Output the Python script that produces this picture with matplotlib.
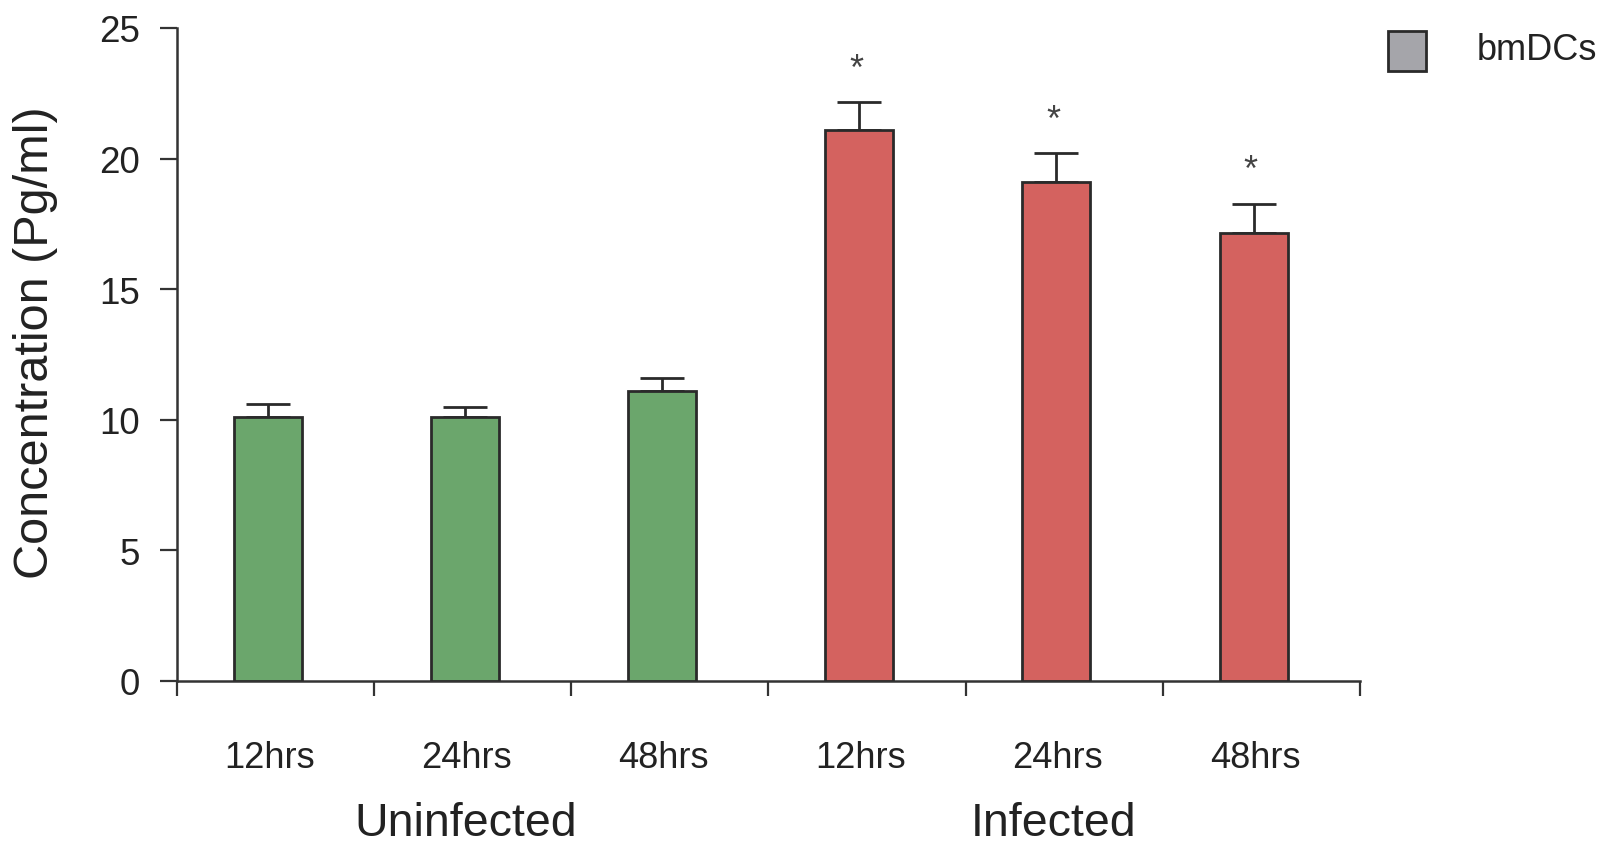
import matplotlib
matplotlib.use("Agg")
import matplotlib.pyplot as plt
from matplotlib.patches import Rectangle

# Data
categories = ["12hrs", "24hrs", "48hrs", "12hrs", "24hrs", "48hrs"]
groups = ["Uninfected", "Infected"]
values = [10.1, 10.1, 11.1, 21.1, 19.1, 17.15]
errors = [0.5, 0.4, 0.5, 1.05, 1.1, 1.1]
significant = [False, False, False, True, True, True]
bar_colors = ["#6ba66c", "#6ba66c", "#6ba66c", "#d4625f", "#d4625f", "#d4625f"]
y_ticks = [0, 5, 10, 15, 20, 25]
legend_label = "bmDCs"

plt.rcParams['font.family'] = ['Liberation Sans', 'DejaVu Sans']
text_color = "#222222"
axis_color = "#333333"

fig = plt.figure(figsize=(16.15, 8.45), dpi=100)
ax = fig.add_axes([0.1096, 0.193, 0.7325, 0.7727])

x = list(range(len(values)))
xb = [xi - 0.04 for xi in x]
ax.bar(xb, values, width=0.345, color=bar_colors, edgecolor="#2a2a2a", linewidth=2, zorder=3)
ax.errorbar(xb, values, yerr=[[0] * len(errors), errors], fmt='none', ecolor="#2a2a2a",
            elinewidth=2, capsize=15.5, capthick=2, zorder=2)

for xi, v, e, s in zip(xb, values, errors, significant):
    if s:
        ax.annotate("*", (xi, v + e), xytext=(-2, 24), textcoords='offset points',
                    ha='center', va='center', fontsize=26, color="#444444")

ax.set_xlim(-0.5, 5.5)
ax.set_ylim(0, 25)
ax.set_yticks(y_ticks)
ax.set_yticklabels([str(t) for t in y_ticks], fontsize=26.5, color=text_color)
ax.set_xticks([i - 0.5 for i in range(len(values) + 1)])
ax.set_xticklabels([])
ax.tick_params(axis='y', direction='out', length=12, width=1.6, color=axis_color, pad=15)
ax.tick_params(axis='x', direction='out', length=11, width=1.6, color=axis_color)
for sp in ["top", "right"]:
    ax.spines[sp].set_visible(False)
for sp in ["left", "bottom"]:
    ax.spines[sp].set_linewidth(1.8)
    ax.spines[sp].set_color(axis_color)

# category labels
for xi, c in zip(xb, categories):
    ax.annotate(c, (xi, 0), xytext=(1, -55), textcoords='offset points', ha='center',
                va='center', fontsize=26, color=text_color, annotation_clip=False)
# group labels
ax.annotate(groups[0], (1, 0), xytext=(-5, -102), textcoords='offset points', ha='center',
            va='center', fontsize=33.5, color=text_color, annotation_clip=False)
ax.annotate(groups[1], (4, 0), xytext=(-8, -102), textcoords='offset points', ha='center',
            va='center', fontsize=33.5, color=text_color, annotation_clip=False)

fig.text(0.022, 0.595, "Concentration (Pg/ml)", rotation=90, ha='center', va='center',
         fontsize=35, color=text_color)

# legend
fig.patches.append(Rectangle((1388 / 1615, 1 - 72 / 845), 38 / 1615, 40 / 845,
                             transform=fig.transFigure, facecolor="#a5a5aa",
                             edgecolor="#2a2a2a", linewidth=2))
fig.text(1477 / 1615, 1 - 50 / 845, legend_label, ha='left', va='center', fontsize=26,
         color=text_color)

fig.savefig("out.png", dpi=100, facecolor="white")
